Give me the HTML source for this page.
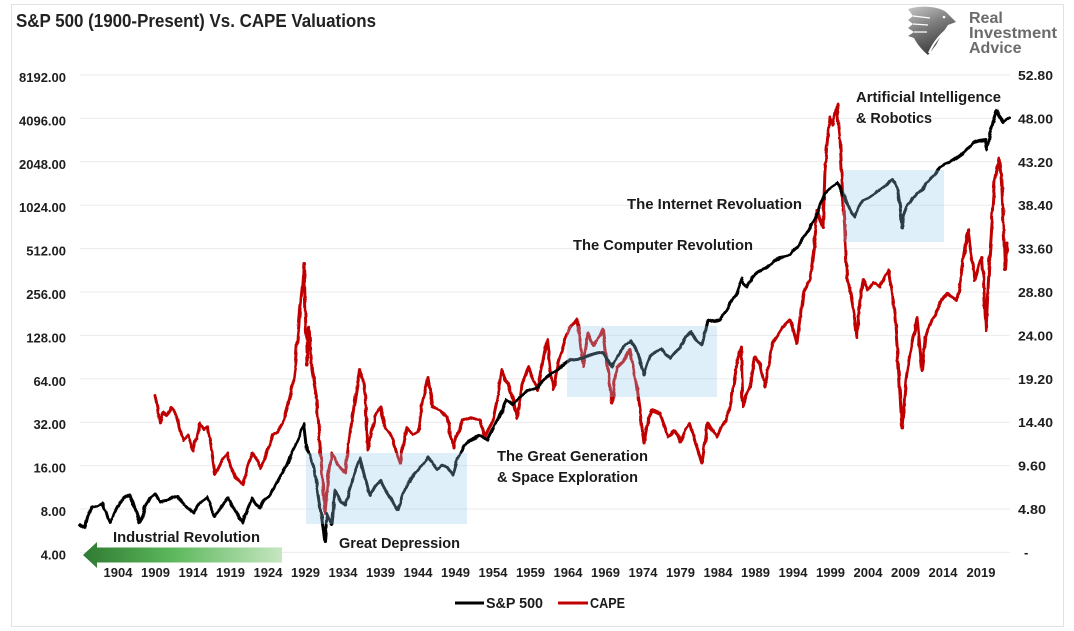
<!DOCTYPE html>
<html>
<head>
<meta charset="utf-8">
<style>
  html,body{margin:0;padding:0;background:#fff;}
  svg{display:block;}
  text{font-family:"Liberation Sans",Arial,sans-serif;font-weight:bold;}
</style>
</head>
<body>
<svg width="1074" height="631" viewBox="0 0 1074 631" xmlns="http://www.w3.org/2000/svg">
  <defs>
    <linearGradient id="arrowG" x1="0" y1="0" x2="1" y2="0">
      <stop offset="0" stop-color="#2f7a32"/>
      <stop offset="0.45" stop-color="#5cb85c"/>
      <stop offset="1" stop-color="#c6e6c0"/>
    </linearGradient>
    <linearGradient id="eagleG" x1="0" y1="0" x2="0.4" y2="1">
      <stop offset="0" stop-color="#c8c8c8"/>
      <stop offset="0.5" stop-color="#7a7a7a"/>
      <stop offset="1" stop-color="#3e3e3e"/>
    </linearGradient>
    <filter id="rough" x="-2%" y="-5%" width="104%" height="110%">
      <feTurbulence type="fractalNoise" baseFrequency="0.09" numOctaves="2" seed="3" result="n"/>
      <feDisplacementMap in="SourceGraphic" in2="n" scale="3.5" xChannelSelector="R" yChannelSelector="G"/>
    </filter>
  </defs>

  <rect x="0" y="0" width="1074" height="631" fill="#fff"/>
  <rect x="11.5" y="4.5" width="1052" height="622" fill="none" stroke="#e2e2e2" stroke-width="1"/>

  <!-- Title -->
  <text x="16" y="27" font-size="18" fill="#222" textLength="360" lengthAdjust="spacingAndGlyphs">S&amp;P 500 (1900-Present) Vs. CAPE Valuations</text>

  <!-- Logo -->
  <g>
    <path d="M908,9 C920,5 938,6 946,12 L956,22 L948,25 C944,31 940,37 936,45 L928,55 C922,50 917,44 914,38 L908,36 L914,32 L908,28 L913,24 L908,20 L913,16 Z" fill="url(#eagleG)"/>
    <path d="M951,27 C942,32 934,42 929,53" fill="none" stroke="#fff" stroke-width="2"/>
    <path d="M913,16 L930,18 M913,24 L928,25 M914,32 L927,32" stroke="#fff" stroke-width="1.2" fill="none"/>
    <circle cx="944" cy="17" r="1.3" fill="#fff"/>
    <text x="969" y="23" font-size="16" fill="#6b6b6b">Real</text>
    <text x="969" y="38" font-size="16" fill="#6b6b6b" textLength="88" lengthAdjust="spacingAndGlyphs">Investment</text>
    <text x="969" y="53" font-size="16" fill="#6b6b6b">Advice</text>
  </g>

  <!-- Gridlines -->
  <g stroke="#ebebeb" stroke-width="1">
    <line x1="80" y1="75" x2="1010" y2="75"/>
    <line x1="80" y1="118.4" x2="1010" y2="118.4"/>
    <line x1="80" y1="161.8" x2="1010" y2="161.8"/>
    <line x1="80" y1="205.2" x2="1010" y2="205.2"/>
    <line x1="80" y1="248.6" x2="1010" y2="248.6"/>
    <line x1="80" y1="292" x2="1010" y2="292"/>
    <line x1="80" y1="335.4" x2="1010" y2="335.4"/>
    <line x1="80" y1="378.8" x2="1010" y2="378.8"/>
    <line x1="80" y1="422.2" x2="1010" y2="422.2"/>
    <line x1="80" y1="465.6" x2="1010" y2="465.6"/>
    <line x1="80" y1="509" x2="1010" y2="509"/>
    <line x1="80" y1="552.4" x2="1010" y2="552.4"/>
  </g>

  <!-- Left axis labels -->
  <g font-size="13" fill="#1e1e1e" text-anchor="end">
    <text x="66" y="82">8192.00</text>
    <text x="66" y="125.4">4096.00</text>
    <text x="66" y="168.8">2048.00</text>
    <text x="66" y="212.2">1024.00</text>
    <text x="66" y="255.6">512.00</text>
    <text x="66" y="299">256.00</text>
    <text x="66" y="342.4">128.00</text>
    <text x="66" y="385.8">64.00</text>
    <text x="66" y="429.2">32.00</text>
    <text x="66" y="472.6">16.00</text>
    <text x="66" y="516">8.00</text>
    <text x="66" y="559.4">4.00</text>
  </g>

  <!-- Right axis labels -->
  <g font-size="13" fill="#1e1e1e">
    <text x="1018" y="80" textLength="35" lengthAdjust="spacingAndGlyphs">52.80</text>
    <text x="1018" y="123.4" textLength="35" lengthAdjust="spacingAndGlyphs">48.00</text>
    <text x="1018" y="166.8" textLength="35" lengthAdjust="spacingAndGlyphs">43.20</text>
    <text x="1018" y="210.2" textLength="35" lengthAdjust="spacingAndGlyphs">38.40</text>
    <text x="1018" y="253.6" textLength="35" lengthAdjust="spacingAndGlyphs">33.60</text>
    <text x="1018" y="297" textLength="35" lengthAdjust="spacingAndGlyphs">28.80</text>
    <text x="1018" y="340.4" textLength="35" lengthAdjust="spacingAndGlyphs">24.00</text>
    <text x="1018" y="383.8" textLength="35" lengthAdjust="spacingAndGlyphs">19.20</text>
    <text x="1018" y="427.2" textLength="35" lengthAdjust="spacingAndGlyphs">14.40</text>
    <text x="1018" y="470.6" textLength="28" lengthAdjust="spacingAndGlyphs">9.60</text>
    <text x="1018" y="514" textLength="28" lengthAdjust="spacingAndGlyphs">4.80</text>
    <text x="1024" y="557">-</text>
  </g>

  <!-- X axis labels -->
  <g font-size="13" fill="#1e1e1e" text-anchor="middle">
    <text x="118" y="577">1904</text>
    <text x="155.5" y="577">1909</text>
    <text x="193" y="577">1914</text>
    <text x="230.5" y="577">1919</text>
    <text x="268" y="577">1924</text>
    <text x="305.5" y="577">1929</text>
    <text x="343" y="577">1934</text>
    <text x="380.5" y="577">1939</text>
    <text x="418" y="577">1944</text>
    <text x="455.5" y="577">1949</text>
    <text x="493" y="577">1954</text>
    <text x="530.5" y="577">1959</text>
    <text x="568" y="577">1964</text>
    <text x="605.5" y="577">1969</text>
    <text x="643" y="577">1974</text>
    <text x="680.5" y="577">1979</text>
    <text x="718" y="577">1984</text>
    <text x="755.5" y="577">1989</text>
    <text x="793" y="577">1994</text>
    <text x="830.5" y="577">1999</text>
    <text x="868" y="577">2004</text>
    <text x="905.5" y="577">2009</text>
    <text x="943" y="577">2014</text>
    <text x="981" y="577">2019</text>
  </g>

  <!-- Green arrow -->
  <path d="M83,555 L97,542 L97,547.5 L282,547.5 L282,562.5 L97,562.5 L97,568 Z" fill="url(#arrowG)"/>

  <g filter="url(#rough)">
  <!-- CAPE (red) -->
  <polyline fill="none" stroke="#c00000" stroke-width="3" stroke-linejoin="round" stroke-linecap="round"
    points="155,395 157,405 160,423 163,412 167,415 171,408 175,413 179,425 183,440 188,435 193,450 197,438 200,423 204,430 207,427 211,445 215,475 220,465 227,453 231,468 235,477 239,480 243,485 248,465 253,453 257,462 260,468 266,455 273,435 278,432 283,423 288,405 293,383 296,360 300,310 302,290 304,263 305,300 307,365 309,327 312,370 317,400 320,445 325,513 328,480 332,453 337,463 341,470 345,473 350,433 355,400 360,370 363,380 365,393 368,450 372,430 375,417 380,407 385,427 389,432 393,440 397,455 400,463 404,440 407,427 413,435 418,432 423,400 428,378 433,407 440,410 447,417 453,447 458,432 463,420 470,417 480,420 485,437 493,420 498,395 502,370 505,378 508,383 513,400 517,418 522,385 528,367 533,380 538,390 543,360 547,340 550,365 553,390 557,370 560,357 565,340 570,327 577,320 580,340 583,367 588,333 593,345 597,340 603,330 608,370 612,403 617,367 623,363 630,350 634,370 637,390 641,420 644,443 648,420 652,410 660,413 668,437 675,430 680,442 685,430 690,423 696,445 702,463 708,423 712,430 717,437 722,425 727,420 732,395 737,363 741,347 743,407 745,400 750,387 755,357 760,365 765,387 773,343 783,327 790,320 797,343 803,293 810,280 815,240 817,210 823,227 825,170 828,140 830,117 833,125 837,105 840,137 842,180 845,233 847,277 850,290 853,307 857,337 860,300 863,280 868,290 873,283 880,287 885,275 888,270 892,290 895,317 898,360 902,428 906,380 910,353 914,335 917,317 922,370 925,340 927,333 932,320 937,310 942,300 947,293 952,298 957,300 962,270 968,230 972,260 975,280 979,265 982,257 984,290 986,330 988,290 990,253 993,210 995,180 997,170 999,158 1001,175 1002,190 1004,240 1005,270 1007,243"/>

  <!-- S&P 500 (black) -->
  <polyline fill="none" stroke="#000" stroke-width="3" stroke-linejoin="round" stroke-linecap="round"
    points="80,525 85,528 88,515 92,507 97,506 102,503 106,512 110,523 115,512 120,502 125,498 130,495 135,508 140,523 145,508 150,498 155,493 160,502 168,500 177,497 185,505 193,513 200,503 207,497 211,508 215,517 222,505 228,498 236,512 243,522 248,508 252,498 256,505 260,508 264,500 268,497 274,488 280,477 287,465 293,450 299,437 304,423 307,450 310,455 313,463 318,495 322,520 325,542 327,513 330,520 332,525 335,490 340,500 345,505 352,480 360,458 365,478 370,495 375,486 380,480 388,495 398,510 403,495 408,482 418,470 428,457 432,462 437,470 442,465 447,467 453,475 458,458 463,447 470,440 480,435 487,440 492,430 497,420 502,410 507,400 513,405 519,397 525,393 531,390 537,388 542,382 547,377 552,373 557,370 563,365 570,360 577,359 583,358 590,355 597,353 603,352 608,360 612,367 616,358 620,352 625,346 630,340 634,346 637,352 641,365 644,375 647,365 650,357 655,352 660,348 665,354 670,358 675,352 680,348 685,340 690,332 696,340 702,345 705,332 708,320 714,322 720,320 724,314 727,310 732,300 737,292 742,278 744,284 747,287 752,278 757,272 762,270 767,267 773,262 780,257 785,256 790,255 794,250 798,247 802,240 807,233 812,224 817,215 821,203 825,193 831,187 837,183 840,187 844,196 847,203 851,212 855,217 859,207 863,200 868,198 873,195 878,191 883,187 888,183 892,180 895,183 897,187 900,205 902,228 904,215 907,207 912,199 917,193 922,190 926,184 930,180 935,173 940,167 945,164 950,162 956,158 963,153 968,148 973,143 979,141 985,140 986,146 987,150 990,132 993,122 997,110 1000,117 1003,123 1006,120 1009,118"/>
  </g>

  <!-- Shaded boxes -->
  <rect x="306" y="453" width="161" height="71" fill="#94caeb" fill-opacity="0.3"/>
  <rect x="567" y="326" width="150" height="71" fill="#94caeb" fill-opacity="0.3"/>
  <rect x="843" y="170" width="101" height="72" fill="#94caeb" fill-opacity="0.3"/>

  <!-- Annotations -->
  <g font-size="15" fill="#1a1a1a">
    <text x="856" y="102" textLength="145" lengthAdjust="spacingAndGlyphs">Artificial Intelligence</text>
    <text x="856" y="123" textLength="76" lengthAdjust="spacingAndGlyphs">&amp; Robotics</text>
    <text x="627" y="209" textLength="175" lengthAdjust="spacingAndGlyphs">The Internet Revoluation</text>
    <text x="573" y="250" textLength="180" lengthAdjust="spacingAndGlyphs">The Computer Revolution</text>
    <text x="497" y="461" textLength="151" lengthAdjust="spacingAndGlyphs">The Great Generation</text>
    <text x="497" y="482" textLength="141" lengthAdjust="spacingAndGlyphs">&amp; Space Exploration</text>
    <text x="113" y="542" textLength="147" lengthAdjust="spacingAndGlyphs">Industrial Revolution</text>
    <text x="339" y="548" textLength="121" lengthAdjust="spacingAndGlyphs">Great Depression</text>
  </g>

  <!-- Legend -->
  <line x1="455" y1="603" x2="484" y2="603" stroke="#000" stroke-width="3"/>
  <text x="486" y="608" font-size="15" fill="#1a1a1a" textLength="57" lengthAdjust="spacingAndGlyphs">S&amp;P 500</text>
  <line x1="558" y1="603" x2="588" y2="603" stroke="#c00000" stroke-width="3"/>
  <text x="590" y="608" font-size="15" fill="#1a1a1a" textLength="35" lengthAdjust="spacingAndGlyphs">CAPE</text>
</svg>
</body>
</html>
